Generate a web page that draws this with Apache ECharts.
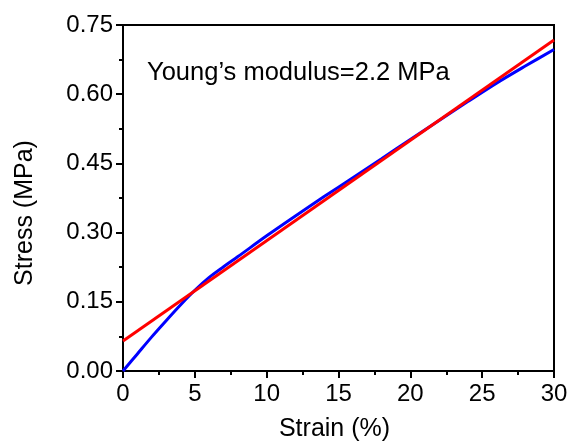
<!DOCTYPE html>
<html><head><meta charset="utf-8">
<script src="https://cdn.jsdelivr.net/npm/echarts@6/dist/echarts.min.js"></script>
<style>html,body{margin:0;padding:0;background:#fff}#c{width:571px;height:445px}</style>
</head><body><div id="c"></div>
<script>
const strain = [0,1,2,3,4,5,6,7,8,10,12,14,16,18,20,22,24,26,28,30];
const stress = [0,0.037,0.074,0.109,0.143,0.175,0.203,0.226,0.248,0.293,0.336,0.378,0.419,0.460,0.502,0.543,0.584,0.624,0.661,0.697];
const fitX = [0,30];
const fitY = [0.065,0.7175];
const xTicks = [0,5,10,15,20,25,30];
const yTicks = [0,0.15,0.30,0.45,0.60,0.75];
const annotation = "Young\u2019s modulus=2.2 MPa";
const xName = "Strain (%)";
const yName = "Stress (MPa)";

const chart = echarts.init(document.getElementById('c'));
const font = 'Liberation Sans, Arial, sans-serif';
chart.setOption({
  animation:false,
  grid:{left:123,right:17,top:25,bottom:74,show:true,borderColor:'#000',borderWidth:2,backgroundColor:'transparent',
    containLabel:false,outerBoundsMode:'none'},
  xAxis:{type:'value',min:xTicks[0],max:xTicks[xTicks.length-1],interval:5,
    name:xName,nameLocation:'middle',nameGap:46,
    nameTextStyle:{fontFamily:font,fontSize:25,color:'#000',padding:[0,8,0,0]},
    axisLine:{lineStyle:{color:'#000',width:2}},
    axisTick:{inside:false,length:7,lineStyle:{color:'#000',width:2}},
    minorTick:{show:true,splitNumber:2,length:4,lineStyle:{color:'#000',width:2}},
    axisLabel:{fontFamily:font,fontSize:24,color:'#000',margin:11},
    splitLine:{show:false}},
  yAxis:{type:'value',min:yTicks[0],max:yTicks[yTicks.length-1],interval:0.15,
    axisLine:{lineStyle:{color:'#000',width:2}},
    axisTick:{inside:false,length:7,lineStyle:{color:'#000',width:2}},
    minorTick:{show:true,splitNumber:2,length:4,lineStyle:{color:'#000',width:2}},
    axisLabel:{fontFamily:font,fontSize:24,color:'#000',margin:10,formatter:v=>v.toFixed(2)},
    splitLine:{show:false}},
  graphic:[
    {type:'text',left:147,top:60,style:{text:annotation,font:'25.5px '+font,fill:'#000'}},
    {type:'text',x:25,y:213,rotation:Math.PI/2,style:{text:yName,font:'25px '+font,fill:'#000',align:'center',verticalAlign:'middle'}}
  ],
  series:[
    {type:'line',data:strain.map((x,i)=>[x,stress[i]]),smooth:0.3,showSymbol:false,
     lineStyle:{color:'#0000ff',width:3},z:2},
    {type:'line',data:fitX.map((x,i)=>[x,fitY[i]]),showSymbol:false,
     lineStyle:{color:'#ff0000',width:3},z:3}
  ]
});
</script></body></html>
